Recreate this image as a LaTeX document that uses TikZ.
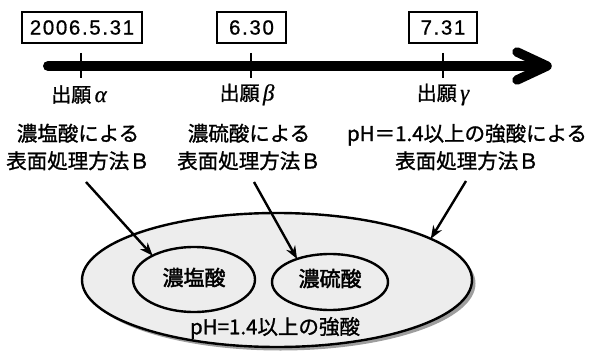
\documentclass[tikz,border=0pt]{standalone}
\usepackage{fontspec}
\setmainfont{Liberation Sans}
\newfontfamily\jp[FakeBold=1.2]{Noto Sans CJK JP}
\newfontfamily\jpb[FakeBold=2]{Noto Sans CJK JP}
\newfontfamily\grk[FakeBold=0.6]{Liberation Serif}
\newfontfamily\datefont[LetterSpace=8,FakeBold=0.8]{Liberation Sans}
\usetikzlibrary{shapes.geometric,shadows,arrows.meta}
\tikzset{
  datebox/.style={draw, line width=1.3pt, minimum height=31pt, inner sep=0pt, font=\datefont\fontsize{20.5}{20.5}\selectfont},
  ticklab/.style={font=\jp\fontsize{20}{20}\selectfont, inner sep=0pt},
  desc/.style={font=\jp\fontsize{20.5}{27.5}\selectfont, align=center, inner sep=0pt},
  oval/.style={ellipse, draw, line width=2.4pt, fill=gray!14, inner sep=0pt, outer sep=0pt},
  ovaltext/.style={font=\jpb\fontsize{21}{21}\selectfont, inner sep=0pt},
  conn/.style={line width=2.4pt, -{Stealth[length=13pt,width=10pt]}},
  tickmark/.style={line width=2.6pt},
}
\newcommand{\gk}[1]{\,{\grk\itshape\fontsize{23}{23}\selectfont #1}}
\begin{document}
\begin{tikzpicture}[x=1pt,y=-1pt]
\useasboundingbox (0,0) rectangle (594,353);
% time line
\coordinate (t0) at (48,66);
\coordinate (t1) at (547,66);
\draw[line width=10pt, line cap=round] (t0) -- ([xshift=-6pt]t1);
\draw[line width=9.5pt, line cap=round, line join=round]
  ([xshift=-30pt,yshift=14pt]t1) -- (t1) -- ([xshift=-30pt,yshift=-14pt]t1);
% date boxes
\node[datebox, minimum width=120pt] (d1) at (82,27.5) {2006.5.31};
\node[datebox, minimum width=69pt] (d2) at (251.5,27.5) {6.30};
\node[datebox, minimum width=68pt] (d3) at (443,27.5) {7.31};
% ticks
\draw[tickmark] (81,53) -- (81,78);
\draw[tickmark] (251,53) -- (251,78);
\draw[tickmark] (443,53) -- (443,78);
% tick labels
\node[ticklab] (a1) at (79,94.5) {出願\gk{α}};
\node[ticklab] (a2) at (247,94.5) {出願\gk{β}};
\node[ticklab] (a3) at (443,94.5) {出願\gk{γ}};
% descriptions
\node[desc] (m1) at (78,147) {濃塩酸による\\表面処理方法Ｂ};
\node[desc] (m2) at (249,147) {濃硫酸による\\表面処理方法Ｂ};
\node[desc] (m3) at (467,147) {pH＝1.4以上の強酸による\\表面処理方法Ｂ};
% ellipses
\node[oval, minimum width=390pt, minimum height=134pt,
      drop shadow={shadow xshift=3.5pt, shadow yshift=-3.5pt, fill=gray!85, opacity=0.9}]
      (big) at (277,280) {};
\node[oval, minimum width=122pt, minimum height=65pt] (e1) at (194,279.5) {};
\node[oval, minimum width=116pt, minimum height=56pt] (e2) at (330,282) {};
\node[ovaltext] (l1) at (194,277.5) {濃塩酸};
\node[ovaltext] (l2) at (330,278.5) {濃硫酸};
\node[ovaltext, font=\jp\fontsize{20.5}{20.5}\selectfont] (l3) at (275,328) {pH=1.4以上の強酸};
% connectors
\coordinate (s1) at (86,182);
\coordinate (s2) at (254,182);
\coordinate (s3) at (466,181);
\draw[conn] (s1) -- (e1.150);
\draw[conn] (s2) -- (e2.145);
\draw[conn] (s3) -- (big.15);
\end{tikzpicture}
\end{document}
